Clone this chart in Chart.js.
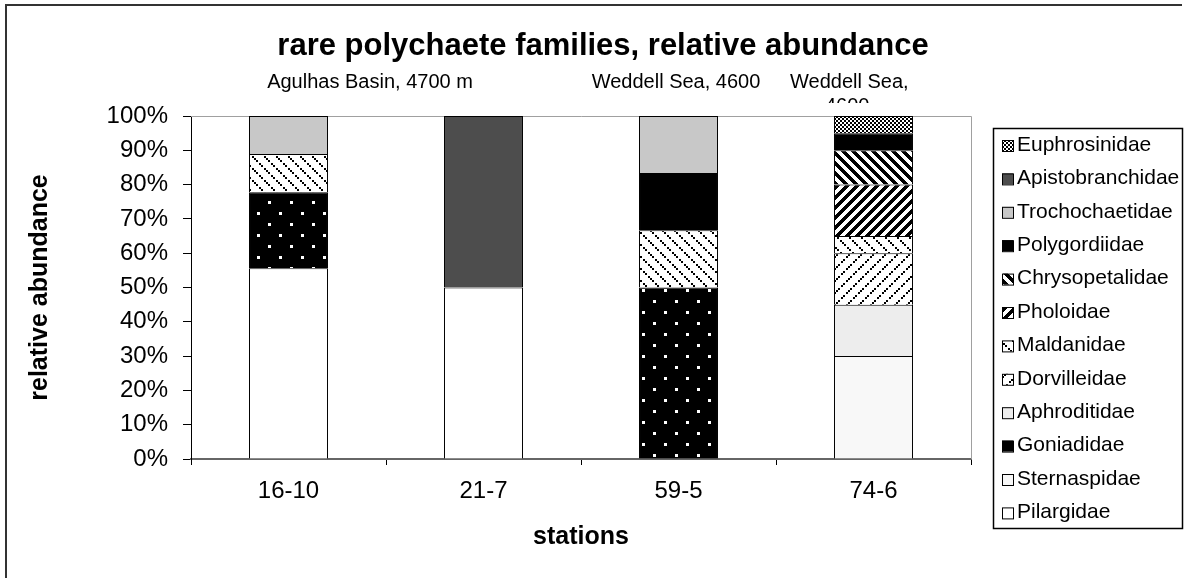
<!DOCTYPE html>
<html><head><meta charset="utf-8">
<script src="https://cdn.jsdelivr.net/npm/chart.js@4.4.1/dist/chart.umd.min.js"></script>
<style>html,body{margin:0;padding:0;background:#fff;} canvas{display:block;}</style>
</head><body>
<canvas id="c" width="1187" height="578"></canvas>
<script>
// ---- data (percent of individuals per station) ----
const stations = ['16-10', '21-7', '59-5', '74-6'];
const pilargidae       = [55.6, 50,   null, null];
const sternaspidae     = [null, null, null, 30];
const goniadidae       = [22.2, null, 50,   null];
const aphroditidae     = [null, null, null, 15];
const dorvilleidae     = [null, null, null, 15];
const maldanidae       = [11.1, null, 16.7, 5];
const pholoidae        = [null, null, null, 15];
const chrysopetalidae  = [null, null, null, 10];
const polygordiidae    = [null, null, 16.7, 5];
const trochochaetidae  = [11.1, null, 16.6, null];
const apistobranchidae = [null, 50,   null, null];
const euphrosinidae    = [null, null, null, 5];
const yTickLabels = ['0%','10%','20%','30%','40%','50%','60%','70%','80%','90%','100%'];
const titleText = 'rare polychaete families, relative abundance';
const yTitle = 'relative abundance';
const xTitle = 'stations';
const notes = ['Agulhas Basin, 4700 m', 'Weddell Sea, 4600', 'Weddell Sea,', '4600'];

const FONT = "'Liberation Sans', Arial, sans-serif";
const canvas = document.getElementById('c');
const mainCtx = canvas.getContext('2d');

function pixelTile(w, h, isBlack) {
  const c = document.createElement('canvas');
  c.width = w; c.height = h;
  const x = c.getContext('2d');
  x.fillStyle = '#fff'; x.fillRect(0, 0, w, h);
  x.fillStyle = '#000';
  for (let yy = 0; yy < h; yy++) for (let xx = 0; xx < w; xx++) if (isBlack(xx, yy)) x.fillRect(xx, yy, 1, 1);
  return mainCtx.createPattern(c, 'repeat');
}
const inSq = (x, y, sx, sy, s) => x >= sx && x < sx + s && y >= sy && y < sy + s;
const patGon = pixelTile(22, 22, (x, y) => !(inSq(x, y, 4, 3, 3) || inSq(x, y, 15, 14, 3)));
const patMald = pixelTile(12, 12, (x, y) => [0, 2, 4, 7, 9].some(k => inSq(x, y, k, k, 2)));
const patDorv = pixelTile(12, 12, (x, y) => [0, 2, 4, 7, 9].some(k => inSq(x, y, 10 - k, k, 2)));
const patPhol = pixelTile(10, 10, (x, y) => ((x + y) % 10) < 5);
const patChry = pixelTile(10, 10, (x, y) => ((x - y + 10) % 10) < 5);
const patEuph = pixelTile(4, 4, (x, y) => (((x >> 1) + (y >> 1)) % 2) === 0);

const series = [
  ['Pilargidae', pilargidae, '#ffffff'],
  ['Sternaspidae', sternaspidae, '#f8f8f8'],
  ['Goniadidae', goniadidae, patGon],
  ['Aphroditidae', aphroditidae, '#ededed'],
  ['Dorvilleidae', dorvilleidae, patDorv],
  ['Maldanidae', maldanidae, patMald],
  ['Pholoidae', pholoidae, patPhol],
  ['Chrysopetalidae', chrysopetalidae, patChry],
  ['Polygordiidae', polygordiidae, '#000000'],
  ['Trochochaetidae', trochochaetidae, '#c8c8c8'],
  ['Apistobranchidae', apistobranchidae, '#4d4d4d'],
  ['Euphrosinidae', euphrosinidae, patEuph]
];

const datasets = series.map(([label, data, bg]) => ({
  label, data, backgroundColor: bg, borderColor: '#000', borderWidth: 1,
  categoryPercentage: 1, barPercentage: 0.405
}));

const deco = {
  id: 'deco',
  beforeDatasetsDraw(chart) {
    const ctx = chart.ctx, a = chart.chartArea;
    ctx.save();
    ctx.strokeStyle = '#a0a0a0'; ctx.lineWidth = 1;
    ctx.beginPath();
    ctx.moveTo(a.left, a.top + 0.5); ctx.lineTo(a.right + 0.5, a.top + 0.5); ctx.lineTo(a.right + 0.5, a.bottom);
    ctx.stroke();
    ctx.restore();
  },
  afterDraw(chart) {
    const ctx = chart.ctx;
    ctx.save();
    // outer frame
    ctx.strokeStyle = '#333'; ctx.lineWidth = 2;
    ctx.beginPath(); ctx.moveTo(6, 578); ctx.lineTo(6, 5); ctx.lineTo(1182, 5); ctx.stroke();
    // title
    ctx.fillStyle = '#000';
    ctx.textAlign = 'center'; ctx.textBaseline = 'middle';
    ctx.font = 'bold 31px ' + FONT;
    ctx.fillText(titleText, 603, 46);
    // annotations
    ctx.font = '20px ' + FONT;
    ctx.fillText(notes[0], 370, 82);
    ctx.fillText(notes[1], 676, 82);
    ctx.textAlign = 'left';
    ctx.fillText(notes[2], 790, 82);
    ctx.save();
    ctx.beginPath(); ctx.rect(780, 90, 150, 13); ctx.clip();
    ctx.fillText(notes[3], 825, 106);
    ctx.restore();
    // legend
    const L = 993, T = 128, R = 1182, B = 528;
    ctx.fillStyle = '#fff'; ctx.fillRect(L, T, R - L, B - T);
    ctx.strokeStyle = '#000'; ctx.lineWidth = 1.5;
    ctx.strokeRect(L + 0.5, T + 0.5, R - L, B - T);
    ctx.font = '21px ' + FONT; ctx.textBaseline = 'middle'; ctx.textAlign = 'left';
    const ds = chart.data.datasets;
    for (let i = 0; i < ds.length; i++) {
      const d = ds[ds.length - 1 - i];
      const cy = 145 + i * 33.4;
      ctx.fillStyle = d.backgroundColor;
      ctx.fillRect(1002, cy - 5, 11, 11);
      ctx.strokeStyle = '#000'; ctx.lineWidth = 1;
      ctx.strokeRect(1002.5, cy - 4.5, 11, 11);
      ctx.fillStyle = '#000';
      ctx.fillText(d.label, 1017, cy);
    }
    ctx.restore();
  }
};

new Chart(canvas, {
  type: 'bar',
  data: { labels: stations, datasets },
  options: {
    responsive: false, animation: false, devicePixelRatio: 1,
    layout: { padding: { top: 116, left: 8, right: 216, bottom: 0 } },
    plugins: { legend: { display: false }, title: { display: false }, tooltip: { enabled: false } },
    scales: {
      x: {
        stacked: true,
        afterFit(s) { s.height = 119; },
        grid: { offset: true, drawOnChartArea: false, drawTicks: true, tickLength: 6, color: '#000', lineWidth: 1 },
        border: { color: '#666', width: 2 },
        ticks: { color: '#000', font: { family: FONT, size: 24 }, padding: 12, maxRotation: 0 },
        title: { display: true, text: xTitle, color: '#000', font: { family: FONT, size: 25, weight: 'bold' }, padding: { top: 0, bottom: 26 } }
      },
      y: {
        stacked: true, min: 0, max: 100,
        afterFit(s) { s.width = 183; },
        grid: { drawOnChartArea: false, drawTicks: true, tickLength: 8, color: '#000', lineWidth: 1 },
        border: { color: '#000', width: 1 },
        ticks: { stepSize: 10, color: '#000', font: { family: FONT, size: 24 }, padding: 15,
                 callback: (v, i) => yTickLabels[i] },
        title: { display: true, text: yTitle, color: '#000', font: { family: FONT, size: 25, weight: 'bold' }, padding: { top: 17, bottom: 0 } }
      }
    }
  },
  plugins: [deco]
});
</script>
</body></html>
